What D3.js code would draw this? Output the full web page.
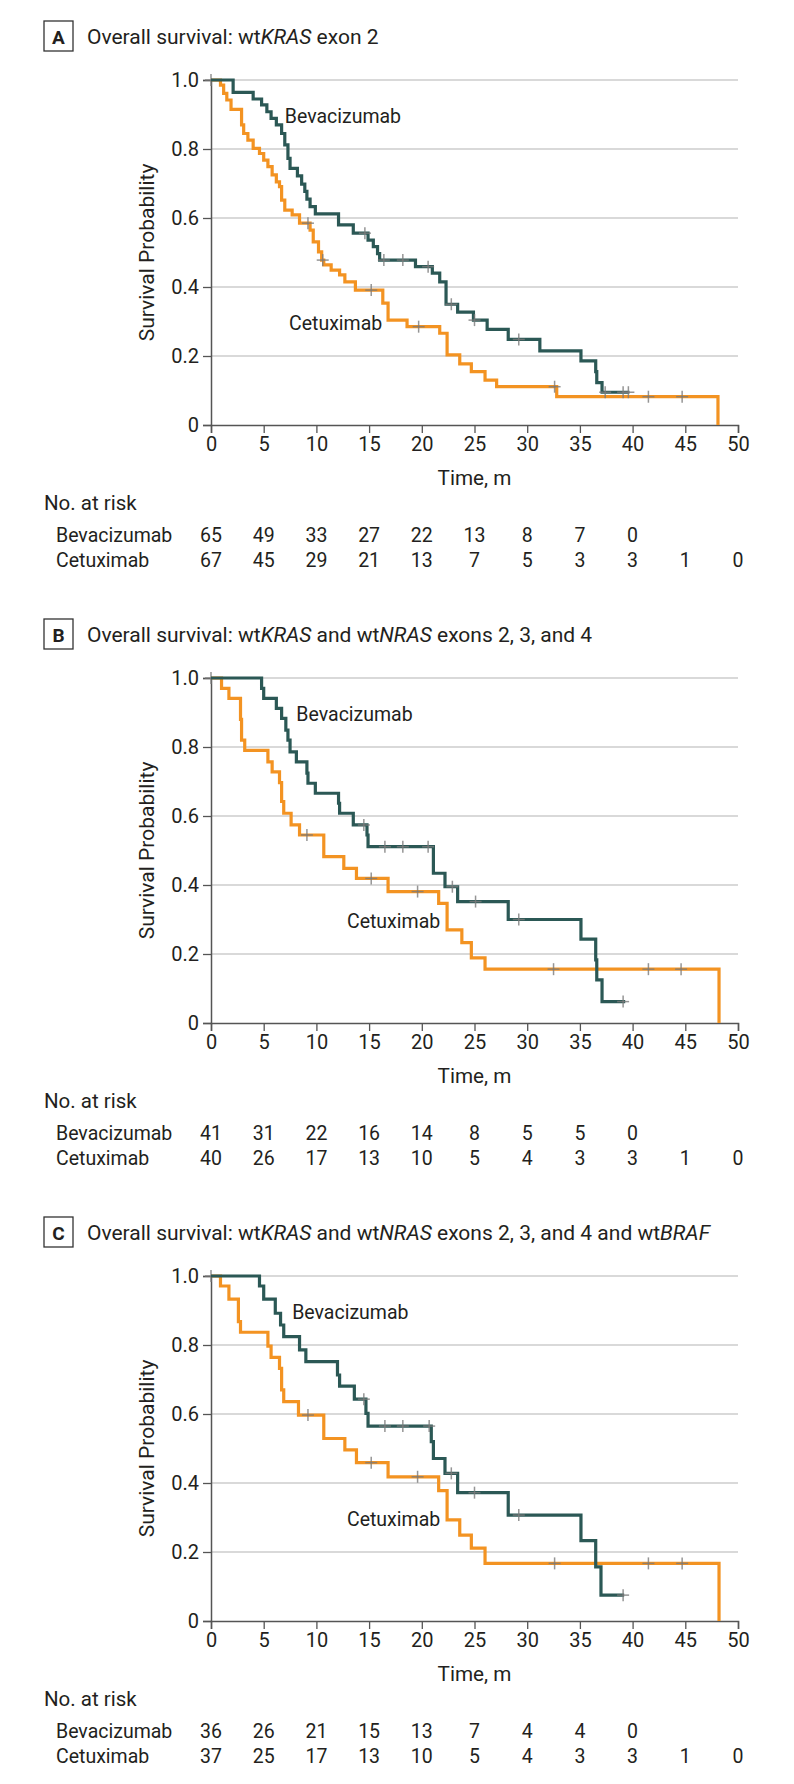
<!DOCTYPE html>
<html>
<head>
<meta charset="utf-8">
<script src="https://cdn.jsdelivr.net/npm/d3@7"></script>
<style>
  body { margin: 0; background: #fff; }
  svg { display: block; font-family: Roboto, "Liberation Sans", sans-serif; }
</style>
</head>
<body>
<svg id="chart" width="794" height="1784"></svg>
<script>
// axis ticks
var xTicks = [0, 5, 10, 15, 20, 25, 30, 35, 40, 45, 50];
var yTicks = [0, 0.2, 0.4, 0.6, 0.8, 1.0];
var riskTimes = [0, 5, 10, 15, 20, 25, 30, 35, 40, 45, 50];

// panel A: wtKRAS exon 2  -- [time, survival after the step]
var bevStepsA = [[0,1],[2.1,0.964],[4.0,0.945],[4.8,0.928],[5.3,0.908],[5.7,0.889],[6.2,0.870],[6.7,0.845],[7.0,0.812],[7.3,0.773],[7.5,0.744],[8.2,0.722],[8.6,0.698],[8.9,0.677],[9.1,0.655],[9.4,0.633],[9.9,0.612],[12.1,0.58],[13.5,0.556],[14.9,0.536],[15.4,0.517],[15.8,0.497],[16.0,0.478],[19.4,0.459],[21.0,0.44],[21.7,0.415],[22.3,0.35],[23.4,0.327],[24.9,0.304],[26.2,0.277],[28.2,0.248],[31.2,0.215],[35.1,0.186],[36.5,0.155],[36.6,0.123],[37.1,0.095]];
var bevCensorA = [14.6, 16.4, 18.2, 20.6, 22.8, 25.0, 29.2, 37.4, 39.1, 39.6];
var bevEndA = 39.7;
var cetStepsA = [[0,1],[0.9,0.985],[1.2,0.961],[1.5,0.942],[1.9,0.915],[2.9,0.87],[3.1,0.845],[3.5,0.826],[4.0,0.802],[4.6,0.787],[5.0,0.768],[5.4,0.749],[5.8,0.725],[6.2,0.705],[6.5,0.691],[6.7,0.652],[7.0,0.623],[7.7,0.609],[8.4,0.585],[9.4,0.565],[9.7,0.531],[10.2,0.502],[10.5,0.478],[10.7,0.464],[11.4,0.449],[12.2,0.435],[12.7,0.415],[13.7,0.391],[16.3,0.353],[16.8,0.304],[18.6,0.285],[21.7,0.266],[22.4,0.203],[23.6,0.177],[24.7,0.155],[26.0,0.13],[27.1,0.111],[32.8,0.082],[48.1,0]];
var cetCensorA = [0, 9.2, 10.6, 15.2, 19.7, 32.6, 41.5, 44.7];
var cetEndA = 48.1;
var bevRiskA = [65, 49, 33, 27, 22, 13, 8, 7, 0];
var cetRiskA = [67, 45, 29, 21, 13, 7, 5, 3, 3, 1, 0];

// panel B: wtKRAS and wtNRAS exons 2, 3, and 4
var bevStepsB = [[0,1],[4.8,0.97],[5.0,0.941],[6.2,0.912],[6.7,0.883],[7.1,0.849],[7.3,0.82],[7.5,0.786],[8.1,0.757],[9.1,0.724],[9.2,0.695],[9.9,0.666],[12.1,0.637],[12.2,0.608],[13.5,0.574],[14.8,0.545],[14.9,0.511],[21.1,0.434],[22.2,0.395],[23.4,0.352],[28.2,0.3],[35.1,0.243],[36.5,0.183],[36.6,0.125],[37.1,0.062]];
var bevCensorB = [14.5, 16.5, 18.2, 20.6, 22.9, 25.1, 29.2, 39.1];
var bevEndB = 39.3;
var cetStepsB = [[0,1],[1.0,0.97],[1.7,0.941],[2.8,0.88],[2.9,0.82],[3.2,0.79],[5.4,0.757],[5.8,0.728],[6.5,0.697],[6.7,0.642],[6.9,0.608],[7.6,0.574],[8.4,0.545],[10.7,0.482],[12.6,0.448],[13.8,0.419],[16.8,0.381],[21.6,0.347],[22.4,0.27],[23.8,0.233],[24.7,0.189],[26.0,0.156],[48.2,0]];
var cetCensorB = [0, 9.1, 15.2, 19.6, 32.5, 41.5, 44.6];
var cetEndB = 48.2;
var bevRiskB = [41, 31, 22, 16, 14, 8, 5, 5, 0];
var cetRiskB = [40, 26, 17, 13, 10, 5, 4, 3, 3, 1, 0];

// panel C: wtKRAS and wtNRAS exons 2, 3, and 4 and wtBRAF
var bevStepsC = [[0,1],[4.6,0.971],[5.0,0.933],[6.1,0.892],[6.6,0.858],[6.9,0.824],[8.4,0.786],[9.0,0.752],[12.0,0.713],[12.2,0.681],[13.6,0.643],[14.7,0.602],[14.9,0.565],[20.9,0.52],[21.1,0.471],[22.2,0.428],[23.4,0.372],[28.2,0.307],[35.1,0.233],[36.5,0.157],[37.0,0.075]];
var bevCensorC = [14.5, 16.5, 18.2, 20.7, 22.8, 25.0, 29.2, 39.1];
var bevEndC = 39.2;
var cetStepsC = [[0,1],[0.9,0.971],[1.7,0.933],[2.6,0.868],[2.8,0.837],[5.4,0.797],[5.7,0.764],[6.5,0.732],[6.7,0.67],[6.9,0.636],[8.3,0.597],[10.7,0.529],[12.7,0.496],[13.8,0.459],[16.8,0.418],[21.6,0.378],[22.4,0.293],[23.6,0.249],[24.7,0.211],[26.0,0.167],[48.2,0]];
var cetCensorC = [0, 9.2, 15.2, 19.6, 32.6, 41.5, 44.7];
var cetEndC = 48.2;
var bevRiskC = [36, 26, 21, 15, 13, 7, 4, 4, 0];
var cetRiskC = [37, 25, 17, 13, 10, 5, 4, 3, 3, 1, 0];

var panels = [
    { letter: "A", title: [["Overall survival: wt", false], ["KRAS", true], [" exon 2", false]],
      bev: bevStepsA, bevC: bevCensorA, bevEnd: bevEndA, cet: cetStepsA, cetC: cetCensorA, cetEnd: cetEndA,
      bevRisk: bevRiskA, cetRisk: cetRiskA, bevLab: [7.0, 0.896], cetLab: [7.4, 0.296] },
    { letter: "B", title: [["Overall survival: wt", false], ["KRAS", true], [" and wt", false], ["NRAS", true], [" exons 2, 3, and 4", false]],
      bev: bevStepsB, bevC: bevCensorB, bevEnd: bevEndB, cet: cetStepsB, cetC: cetCensorB, cetEnd: cetEndB,
      bevRisk: bevRiskB, cetRisk: cetRiskB, bevLab: [8.1, 0.896], cetLab: [12.9, 0.296] },
    { letter: "C", title: [["Overall survival: wt", false], ["KRAS", true], [" and wt", false], ["NRAS", true], [" exons 2, 3, and 4 and wt", false], ["BRAF", true]],
      bev: bevStepsC, bevC: bevCensorC, bevEnd: bevEndC, cet: cetStepsC, cetC: cetCensorC, cetEnd: cetEndC,
      bevRisk: bevRiskC, cetRisk: cetRiskC, bevLab: [7.7, 0.896], cetLab: [12.9, 0.296] }
];

var svg = d3.select("#chart");
var bevColor = "#2b5855", cetColor = "#f39322", textColor = "#231f20";
var panelStep = 598;
var fs = 20.5;

var x = d3.scaleLinear().domain([0, 50]).range([211, 738]);

panels.forEach(function(p, i) {
    var off = i * panelStep;
    var g = svg.append("g").attr("transform", "translate(0," + off + ")");
    var y = d3.scaleLinear().domain([0, 1]).range([425, 80]);

    // title box + title
    g.append("rect").attr("x", 44).attr("y", 21).attr("width", 29).attr("height", 30)
        .attr("fill", "none").attr("stroke", "#333").attr("stroke-width", 1.3);
    g.append("text").attr("x", 58.5).attr("y", 43.5).attr("text-anchor", "middle")
        .attr("font-size", 19).attr("font-weight", "bold").attr("fill", textColor).text(p.letter);
    var t = g.append("text").attr("x", 87).attr("y", 43.5).attr("font-size", 21).attr("fill", textColor);
    p.title.forEach(function(part) {
        t.append("tspan").attr("font-style", part[1] ? "italic" : null).text(part[0]);
    });

    // gridlines
    g.append("g").selectAll("line").data(yTicks.filter(function(d) { return d > 0; })).enter()
        .append("line")
        .attr("x1", x(0)).attr("x2", x(50))
        .attr("y1", function(d) { return y(d); }).attr("y2", function(d) { return y(d); })
        .attr("stroke", "#d9d9d9").attr("stroke-width", 2);

    // y axis
    var yAxis = g.append("g").attr("transform", "translate(" + x(0) + ",0)")
        .call(d3.axisLeft(y).tickValues(yTicks).tickSize(8).tickPadding(4)
            .tickFormat(function(d) { return d === 0 ? "0" : d3.format(".1f")(d); }));
    // x axis
    var xAxis = g.append("g").attr("transform", "translate(0," + y(0) + ")")
        .call(d3.axisBottom(x).tickValues(xTicks).tickSize(8).tickPadding(4));
    [xAxis, yAxis].forEach(function(a) {
        a.select(".domain").attr("stroke", "#555").attr("stroke-width", 1.5);
        a.selectAll(".tick line").attr("stroke", "#555").attr("stroke-width", 1.3);
        a.selectAll(".tick text").attr("font-size", 20).attr("fill", textColor)
            .attr("font-family", "Roboto, sans-serif");
    });

    g.append("text").attr("transform", "translate(147," + y(0.5) + ") rotate(-90)")
        .attr("text-anchor", "middle").attr("dy", "0.35em").attr("font-size", 21).attr("fill", textColor)
        .text("Survival Probability");
    g.append("text").attr("x", x(25)).attr("y", 485).attr("text-anchor", "middle")
        .attr("font-size", 20.7).attr("fill", textColor).text("Time, m");

    // curves
    var line = d3.line().x(function(d) { return x(d[0]); }).y(function(d) { return y(d[1]); })
        .curve(d3.curveStepAfter);
    function surv(steps, tt) {
        var s = 1;
        steps.forEach(function(d) { if (d[0] <= tt) s = d[1]; });
        return s;
    }
    [[p.cet, p.cetC, p.cetEnd, cetColor], [p.bev, p.bevC, p.bevEnd, bevColor]].forEach(function(c) {
        var pts = c[0].concat([[c[2], c[0][c[0].length - 1][1]]]);
        g.append("path").datum(pts).attr("d", line)
            .attr("fill", "none").attr("stroke", c[3]).attr("stroke-width", 3.2);
        var cg = g.append("g").attr("stroke", "#7a7a7a").attr("stroke-opacity", 0.8).attr("stroke-width", 1.5);
        c[1].forEach(function(tt) {
            var cx = x(tt), cy = y(surv(c[0], tt));
            cg.append("line").attr("x1", cx - 6).attr("x2", cx + 6).attr("y1", cy).attr("y2", cy);
            cg.append("line").attr("x1", cx).attr("x2", cx).attr("y1", cy - 6).attr("y2", cy + 6);
        });
    });

    // curve labels
    g.append("text").attr("x", x(p.bevLab[0])).attr("y", y(p.bevLab[1])).attr("dy", "0.35em")
        .attr("font-size", 19.5).attr("fill", textColor).text("Bevacizumab");
    g.append("text").attr("x", x(p.cetLab[0])).attr("y", y(p.cetLab[1])).attr("dy", "0.35em")
        .attr("font-size", 19.5).attr("fill", textColor).text("Cetuximab");

    // number at risk
    g.append("text").attr("x", 44).attr("y", 510).attr("font-size", fs).attr("fill", textColor).text("No. at risk");
    [["Bevacizumab", p.bevRisk, 542], ["Cetuximab", p.cetRisk, 567]].forEach(function(r) {
        g.append("text").attr("x", 56).attr("y", r[2]).attr("font-size", 19.5).attr("fill", textColor).text(r[0]);
        g.append("g").selectAll("text").data(r[1]).enter().append("text")
            .attr("x", function(d, k) { return x(riskTimes[k]); })
            .attr("y", r[2]).attr("text-anchor", "middle").attr("font-size", 19.5).attr("fill", textColor)
            .text(function(d) { return d; });
    });
});
</script>
</body>
</html>
